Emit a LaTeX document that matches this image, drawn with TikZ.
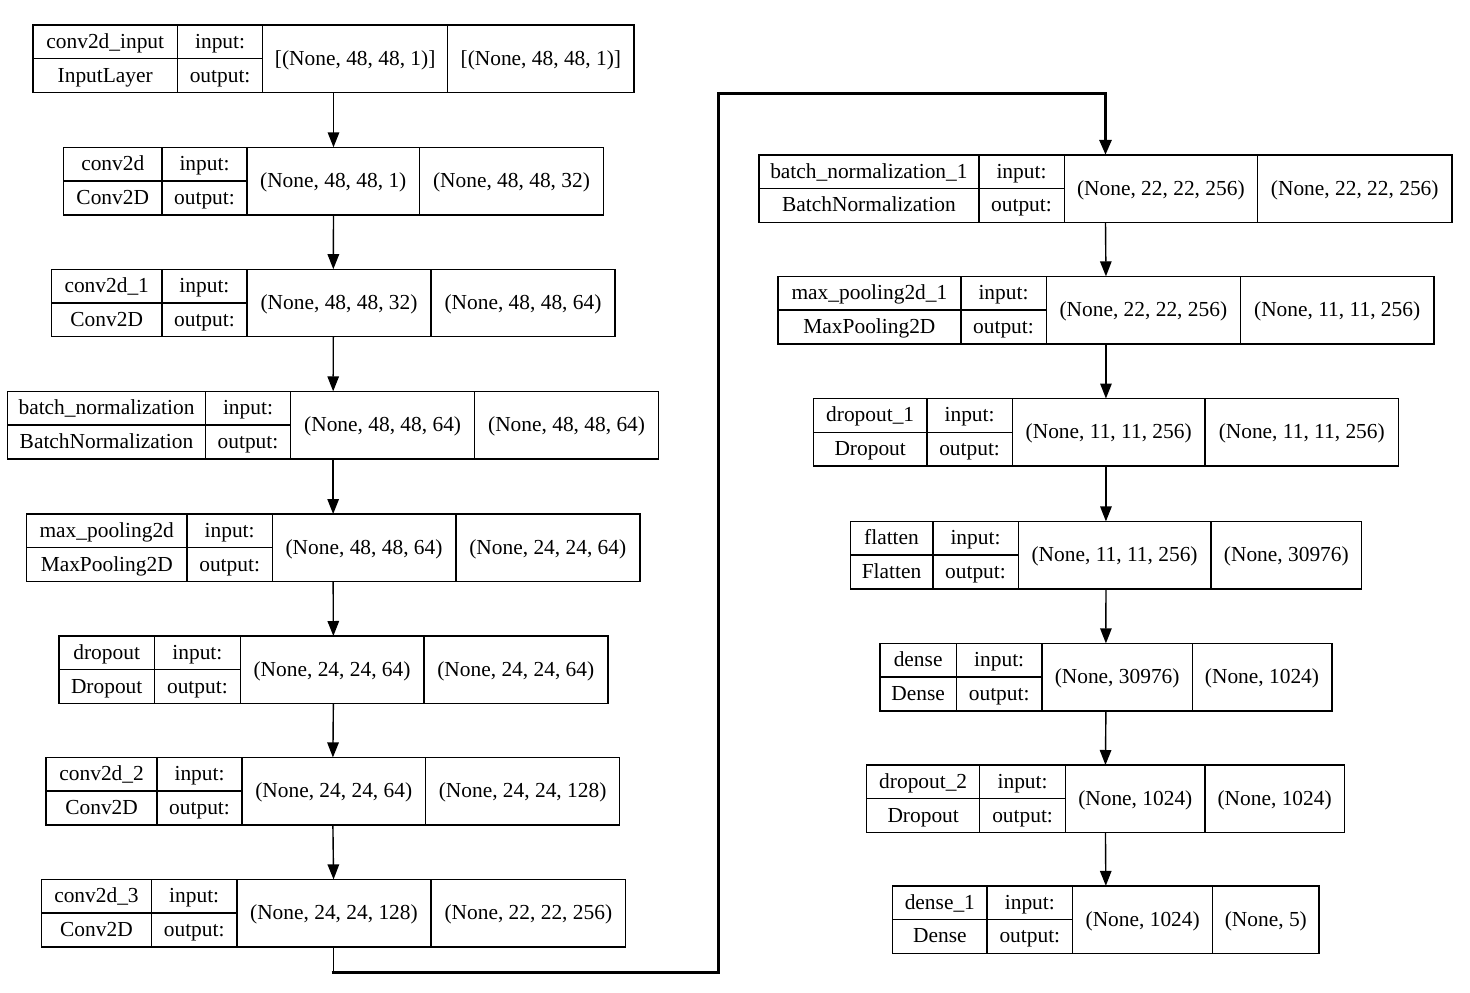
\documentclass[tikz,border=0pt]{standalone}
\usepackage{fontspec}
\setmainfont{Liberation Serif}
\usetikzlibrary{arrows.meta}
\def\bh{67.5}
\tikzset{
  lbox/.style={draw=black, line width=1.4pt, rectangle, inner sep=0pt, outer sep=0pt, minimum height=67.5pt},
  cellline/.style={draw=black, line width=1.4pt},
  txt/.style={inner sep=0pt, outer sep=0pt, anchor=base, font=\fontsize{21.4}{24}\selectfont},
  arr/.style={draw=black, line width=1.4pt, -{Triangle[length=15pt, width=11.5pt]}},
  thin/.style={draw=black, line width=1.4pt},
  jump/.style={draw=black, line width=3pt, line join=miter, -{Triangle[length=15pt, width=12pt]}}
}
% #1 id, #2 left, #3 d1, #4 d2, #5 d3, #6 right, #7 top, #8 name, #9 class
\newcommand\lyr[9]{%
  \node[lbox, minimum width={#6-(#2)}, anchor=north west] (#1) at (#2,#7) {};
  \draw[cellline] (#3,#7) -- ++(0,\bh) (#4,#7) -- ++(0,\bh) (#5,#7) -- ++(0,\bh)
        (#2,#7+\bh/2) -- (#4,#7+\bh/2);
  \node[txt] (#1-n) at ({(#2+#3)/2},#7+23.4) {#8};
  \node[txt] (#1-c) at ({(#2+#3)/2},#7+57) {#9};
  \node[txt] (#1-i) at ({(#3+#4)/2},#7+23.4) {input:};
  \node[txt] (#1-o) at ({(#3+#4)/2},#7+57) {output:};
  \coordinate (#1-x) at ({(#4+#5)/2},#7+40.2);
  \coordinate (#1-y) at ({(#5+#6)/2},#7+40.2);
}
\newcommand\shp[3]{\node[txt] (#1-xs) at (#1-x) {#2}; \node[txt] (#1-ys) at (#1-y) {#3};}
\begin{document}
\begin{tikzpicture}[x=1pt,y=-1pt]
\useasboundingbox (0,0) rectangle (1470,993);
\fill[white] (0,0) rectangle (1470,993);
% left column
\lyr{L1}{33}{177.5}{262.7}{447.7}{634}{25}{conv2d\_input}{InputLayer}
\shp{L1}{[(None, 48, 48, 1)]}{[(None, 48, 48, 1)]}
\lyr{L2}{63.5}{162}{247}{419.5}{603.5}{147.3}{conv2d}{Conv2D}
\shp{L2}{(None, 48, 48, 1)}{(None, 48, 48, 32)}
\lyr{L3}{51.6}{161.8}{247.1}{431}{615}{269.2}{conv2d\_1}{Conv2D}
\shp{L3}{(None, 48, 48, 32)}{(None, 48, 48, 64)}
\lyr{L4}{7.7}{205.3}{290.7}{474.6}{658.6}{391.3}{batch\_normalization}{BatchNormalization}
\shp{L4}{(None, 48, 48, 64)}{(None, 48, 48, 64)}
\lyr{L5}{26.5}{187}{272.3}{455.8}{639.8}{514}{max\_pooling2d}{MaxPooling2D}
\shp{L5}{(None, 48, 48, 64)}{(None, 24, 24, 64)}
\lyr{L6}{58.9}{154.5}{240.3}{423.8}{607.8}{636}{dropout}{Dropout}
\shp{L6}{(None, 24, 24, 64)}{(None, 24, 24, 64)}
\lyr{L7}{46.1}{157.1}{242}{425.5}{619.7}{757.4}{conv2d\_2}{Conv2D}
\shp{L7}{(None, 24, 24, 64)}{(None, 24, 24, 128)}
\lyr{L8}{41.4}{151.5}{236.9}{431}{625.7}{879.4}{conv2d\_3}{Conv2D}
\shp{L8}{(None, 24, 24, 128)}{(None, 22, 22, 256)}
% right column
\lyr{L9}{759}{978.8}{1064.2}{1257.5}{1452}{154.8}{batch\_normalization\_1}{BatchNormalization}
\shp{L9}{(None, 22, 22, 256)}{(None, 22, 22, 256)}
\lyr{L10}{778.1}{960.8}{1046.2}{1240.5}{1433.8}{276.3}{max\_pooling2d\_1}{MaxPooling2D}
\shp{L10}{(None, 22, 22, 256)}{(None, 11, 11, 256)}
\lyr{L11}{813.5}{926.9}{1012.3}{1205.1}{1398.4}{398.5}{dropout\_1}{Dropout}
\shp{L11}{(None, 11, 11, 256)}{(None, 11, 11, 256)}
\lyr{L12}{850.2}{932.8}{1018.2}{1211}{1361.7}{521.4}{flatten}{Flatten}
\shp{L12}{(None, 11, 11, 256)}{(None, 30976)}
\lyr{L13}{880}{956.3}{1042.1}{1192.2}{1331.8}{643.3}{dense}{Dense}
\shp{L13}{(None, 30976)}{(None, 1024)}
\lyr{L14}{866.7}{979.7}{1065.5}{1205.1}{1344.2}{765}{dropout\_2}{Dropout}
\shp{L14}{(None, 1024)}{(None, 1024)}
\lyr{L15}{892.7}{987}{1072.7}{1212.7}{1319}{885.8}{dense\_1}{Dense}
\shp{L15}{(None, 1024)}{(None, 5)}
% connectors
\draw[arr] (L1.south) -- (L2.north);
\draw[arr] (L2.south) -- (L3.north);
\draw[arr] (L3.south) -- (L4.north);
\draw[arr] (L4.south) -- (L5.north);
\draw[arr] (L5.south) -- (L6.north);
\draw[arr] (L6.south) -- (L7.north);
\draw[arr] (L7.south) -- (L8.north);
\draw[arr] (L9.south) -- (L10.north);
\draw[arr] (L10.south) -- (L11.north);
\draw[arr] (L11.south) -- (L12.north);
\draw[arr] (L12.south) -- (L13.north);
\draw[arr] (L13.south) -- (L14.north);
\draw[arr] (L14.south) -- (L15.north);
% jump between columns
\coordinate (j0) at (L8.south |- 0,972.5);
\coordinate (j0b) at (331.5,972.5);
\coordinate (j1) at (718,972.5);
\coordinate (j2) at (718,93);
\coordinate (j3) at (L9.north |- 0,93);
\draw[thin] (L8.south) -- (j0);
\draw[jump] (j0b) -- (j1) -- (j2) -- (j3) -- (L9.north);
\end{tikzpicture}
\end{document}
